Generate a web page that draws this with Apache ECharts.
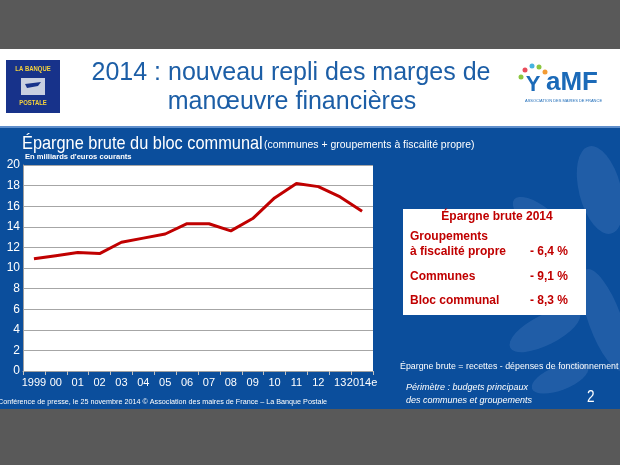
<!DOCTYPE html>
<html><head><meta charset="utf-8">
<script src="https://cdn.jsdelivr.net/npm/echarts@6/dist/echarts.min.js"></script>
<style>html,body{margin:0;padding:0;background:#595959}#c{width:620px;height:465px}</style>
</head><body><div id="c"></div>
<script>
var categories = ['1999','00','01','02','03','04','05','06','07','08','09','10','11','12','13','2014e'];
var epargneBrute = [10.9, 11.2, 11.5, 11.4, 12.5, 12.9, 13.3, 14.3, 14.3, 13.6, 14.8, 16.8, 18.2, 17.9, 16.9, 15.5];
var yTicks = [0,2,4,6,8,10,12,14,16,18,20];
var tableRows = [
  ['Groupements', 'à fiscalité propre', '- 6,4 %'],
  ['Communes', '- 9,1 %'],
  ['Bloc communal', '- 8,3 %']
];

var chart = echarts.init(document.getElementById('c'), null, {renderer:'canvas'});
var F = 'Liberation Sans, Arial, sans-serif';
var RED = '#c00000';
var BLUE = '#0b4e9c';
var LEAF = 'rgba(110,150,210,0.22)';

var graphic = [
  {type:'rect', shape:{x:0,y:49,width:620,height:77}, style:{fill:'#ffffff'}, z:-10},
  {type:'rect', shape:{x:0,y:126,width:620,height:283}, style:{fill:BLUE}, z:-10},
  {type:'rect', shape:{x:0,y:126,width:620,height:2}, style:{fill:'#5f8fcc'}, z:-9},
  // leaves
  {type:'circle', shape:{cx:0,cy:0,r:30}, x:600, y:190, scaleX:0.7, scaleY:1.5, rotation:0.25, style:{fill:LEAF}, z:-8},
  {type:'circle', shape:{cx:0,cy:0,r:30}, x:540, y:220, scaleX:0.45, scaleY:1.1, rotation:0.9, style:{fill:LEAF}, z:-8},
  {type:'circle', shape:{cx:0,cy:0,r:30}, x:545, y:330, scaleX:0.5, scaleY:1.3, rotation:-1.1, style:{fill:LEAF}, z:-8},
  {type:'circle', shape:{cx:0,cy:0,r:30}, x:605, y:320, scaleX:0.55, scaleY:1.8, rotation:0.35, style:{fill:LEAF}, z:-8},
  {type:'circle', shape:{cx:0,cy:0,r:30}, x:560, y:378, scaleX:0.4, scaleY:1.0, rotation:-1.2, style:{fill:LEAF}, z:-8},
  // logo left
  {type:'rect', shape:{x:6,y:60,width:54,height:53}, style:{fill:'#17328a'}, z:1},
  {type:'rect', shape:{x:21,y:78,width:24,height:17}, style:{fill:'#c8cfe0'}, z:2},
  {type:'polygon', shape:{points:[[25,84],[41,82],[38,86],[27,88]]}, style:{fill:'#17328a'}, z:3},
  {type:'text', x:33, y:66, scaleX:0.85, style:{text:'LA BANQUE', fill:'#f5d23c', font:'bold 7px '+F, textAlign:'center'}, z:2},
  {type:'text', x:33, y:100, scaleX:0.85, style:{text:'POSTALE', fill:'#f5d23c', font:'bold 7px '+F, textAlign:'center'}, z:2},
  // logo right
  {type:'circle', shape:{cx:525,cy:70,r:2.5}, style:{fill:'#e94b5b'}, z:2},
  {type:'circle', shape:{cx:532,cy:66,r:2.5}, style:{fill:'#45b3e0'}, z:2},
  {type:'circle', shape:{cx:539,cy:67,r:2.5}, style:{fill:'#8cc63f'}, z:2},
  {type:'circle', shape:{cx:545,cy:72,r:2.5}, style:{fill:'#f39c34'}, z:2},
  {type:'circle', shape:{cx:521,cy:77,r:2.5}, style:{fill:'#8cc63f'}, z:2},
  {type:'text', x:533, y:74, style:{text:'Y', fill:'#1b6ab8', font:'bold 22px '+F, textAlign:'center'}, z:2},
  {type:'text', x:546, y:70, style:{text:'aMF', fill:'#1b6ab8', font:'bold 26px '+F}, z:2},
  {type:'text', x:525, y:99, style:{text:'ASSOCIATION DES MAIRES DE FRANCE', fill:'#1b6ab8', font:'4px '+F}, z:2},
  // slide title
  {type:'text', x:291, y:61, style:{text:'2014 : nouveau repli des marges de', fill:'#1c5ea6', font:'25px '+F, textAlign:'center'}, z:2},
  {type:'text', x:292, y:90, style:{text:'manœuvre financières', fill:'#1c5ea6', font:'25px '+F, textAlign:'center'}, z:2},
  // chart title
  {type:'text', x:22, y:134, scaleX:0.86, style:{text:'Épargne brute du bloc communal', fill:'#ffffff', font:'19px '+F}, z:2},
  {type:'text', x:264, y:139, scaleX:0.95, style:{text:'(communes + groupements à fiscalité propre)', fill:'#ffffff', font:'11px '+F}, z:2},
  {type:'text', x:25, y:153, scaleX:0.95, style:{text:"En milliards d'euros courants", fill:'#ffffff', font:'bold 8px '+F}, z:2},
  // table box
  {type:'rect', shape:{x:403,y:209,width:183,height:106}, style:{fill:'#ffffff'}, z:1},
  {type:'text', x:497, y:211, style:{text:'Épargne brute 2014', fill:RED, font:'bold 12px '+F, textAlign:'center'}, z:2},
  {type:'text', x:410, y:231, style:{text:tableRows[0][0], fill:RED, font:'bold 12px '+F}, z:2},
  {type:'text', x:410, y:246, style:{text:tableRows[0][1], fill:RED, font:'bold 12px '+F}, z:2},
  {type:'text', x:568, y:246, style:{text:tableRows[0][2], fill:RED, font:'bold 12px '+F, textAlign:'right'}, z:2},
  {type:'text', x:410, y:271, style:{text:tableRows[1][0], fill:RED, font:'bold 12px '+F}, z:2},
  {type:'text', x:568, y:271, style:{text:tableRows[1][1], fill:RED, font:'bold 12px '+F, textAlign:'right'}, z:2},
  {type:'text', x:410, y:295, style:{text:tableRows[2][0], fill:RED, font:'bold 12px '+F}, z:2},
  {type:'text', x:568, y:295, style:{text:tableRows[2][1], fill:RED, font:'bold 12px '+F, textAlign:'right'}, z:2},
  // notes
  {type:'text', x:400, y:362, scaleX:0.98, style:{text:'Épargne brute = recettes - dépenses de fonctionnement', fill:'#ffffff', font:'9px '+F}, z:2},
  {type:'text', x:406, y:383, style:{text:'Périmètre : budgets principaux', fill:'#ffffff', font:'italic 9px '+F}, z:2},
  {type:'text', x:406, y:396, style:{text:'des communes et groupements', fill:'#ffffff', font:'italic 9px '+F}, z:2},
  {type:'text', x:587, y:390, scaleX:0.85, style:{text:'2', fill:'#ffffff', font:'16px '+F}, z:2},
  {type:'text', x:-2, y:398, scaleX:0.9, style:{text:'Conférence de presse, le 25 novembre 2014 © Association des maires de France – La Banque Postale', fill:'#ffffff', font:'8px '+F}, z:2}
];

chart.setOption({
  backgroundColor:'#595959',
  animation:false,
  graphic: graphic,
  grid:{left:23, right:247, top:165, bottom:94, show:true, backgroundColor:'#ffffff', borderWidth:0},
  xAxis:{
    type:'category', data:categories, boundaryGap:true,
    axisLine:{lineStyle:{color:'#a0a0a0', width:1}},
    axisTick:{show:true, length:4, lineStyle:{color:'#c0c0c0'}},
    axisLabel:{color:'#ffffff', fontSize:11, fontFamily:F, margin:6, interval:0}
  },
  yAxis:{
    type:'value', min:yTicks[0], max:yTicks[yTicks.length-1], interval:2,
    axisLine:{show:true, lineStyle:{color:'#a0a0a0'}},
    axisTick:{show:false},
    splitLine:{lineStyle:{color:'#a6a6a6', width:1}},
    axisLabel:{color:'#ffffff', fontSize:12, fontFamily:F, margin:3}
  },
  series:[{
    type:'line', data:epargneBrute, symbol:'none',
    lineStyle:{color:'#c00000', width:3}, z:5
  }]
});
</script></body></html>
